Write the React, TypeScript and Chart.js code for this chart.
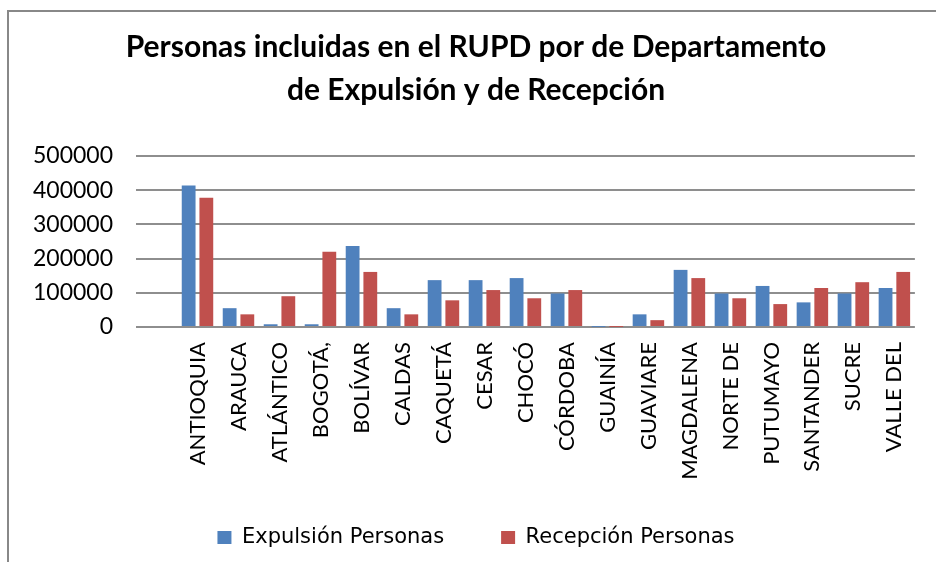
import React, { useEffect, useRef } from "react";
import { Chart, registerables } from "chart.js";

Chart.register(...registerables);

const categories = [
  "",
  "ANTIOQUIA",
  "ARAUCA",
  "ATLÁNTICO",
  "BOGOTÁ,",
  "BOLÍVAR",
  "CALDAS",
  "CAQUETÁ",
  "CESAR",
  "CHOCÓ",
  "CÓRDOBA",
  "GUAINÍA",
  "GUAVIARE",
  "MAGDALENA",
  "NORTE DE",
  "PUTUMAYO",
  "SANTANDER",
  "SUCRE",
  "VALLE DEL",
];

const expulsion = [
  null, 414000, 55000, 8000, 8000, 237000, 55000, 137000, 137000, 143000, 98000,
  400, 37000, 167000, 98000, 120000, 72000, 98000, 114000,
];

const recepcion = [
  null, 378000, 37000, 90000, 220000, 161000, 37000, 78000, 108000, 84000, 108000,
  200, 20000, 143000, 84000, 67000, 114000, 131000, 161000,
];

const titleLines = [
  "Personas incluidas en el RUPD por de Departamento",
  "de Expulsión y de Recepción",
];

const seriesNames = ["Expulsión Personas", "Recepción Personas"];

const legendShift = {
  id: "legendShift",
  afterUpdate(chart: any) {
    const lg = chart.legend;
    if (lg) {
      lg.top -= 9;
      lg.bottom -= 9;
    }
  },
};

export default function App() {
  const canvasRef = useRef<HTMLCanvasElement | null>(null);

  useEffect(() => {
    if (!canvasRef.current) return;
    const chart = new Chart(canvasRef.current, {
      type: "bar",
      data: {
        labels: categories,
        datasets: [
          {
            label: seriesNames[0],
            data: expulsion,
            backgroundColor: "#4F81BD",
            categoryPercentage: 0.863,
            barPercentage: 0.78,
          },
          {
            label: seriesNames[1],
            data: recepcion,
            backgroundColor: "#C0504D",
            categoryPercentage: 0.863,
            barPercentage: 0.78,
          },
        ],
      },
      plugins: [legendShift],
      options: {
        responsive: false,
        animation: false,
        devicePixelRatio: 1,
        layout: { padding: { left: 24, right: 8, top: 10, bottom: -5 } },
        plugins: {
          title: {
            display: true,
            text: titleLines,
            color: "#000",
            font: { family: "Lato", weight: "bold", size: 30, lineHeight: 1.433 },
            padding: { top: 16, bottom: 44 },
          },
          legend: {
            display: true,
            position: "bottom",
            labels: {
              color: "#000",
              font: { family: "'DejaVu Sans'", size: 21 },
              boxWidth: 14,
              boxHeight: 13,
              padding: 57,
            },
          },
          tooltip: { enabled: false },
        },
        scales: {
          x: {
            grid: { display: false, drawTicks: false },
            border: { display: false },
            ticks: {
              autoSkip: false,
              maxRotation: 90,
              minRotation: 90,
              padding: 15,
              color: "#000",
              font: { family: "Lato", size: 22 },
            },
            afterFit: (scale: any) => {
              scale.height = 152;
            },
          },
          y: {
            min: 0,
            max: 500000,
            grid: { color: "#8e8e8e", lineWidth: 2, drawTicks: false },
            border: { display: false },
            ticks: {
              stepSize: 100000,
              padding: 23,
              color: "#000",
              font: { family: "Lato", size: 23 },
              callback: (v: any) => String(v),
            },
            afterFit: (scale: any) => {
              scale.width = 112;
            },
          },
        },
      },
    });
    return () => chart.destroy();
  }, []);

  return (
    <div
      style={{
        position: "fixed",
        left: 0,
        top: 0,
        width: 936,
        height: 562,
        overflow: "hidden",
        background: "#fff",
      }}
    >
      <div
        style={{
          position: "absolute",
          left: 7,
          top: 10,
          width: 1000,
          height: 1000,
          border: "2px solid #888",
        }}
      />
      <canvas
        ref={canvasRef}
        width={936}
        height={562}
        style={{ position: "absolute", left: 0, top: 0, width: 936, height: 562 }}
      />
    </div>
  );
}
